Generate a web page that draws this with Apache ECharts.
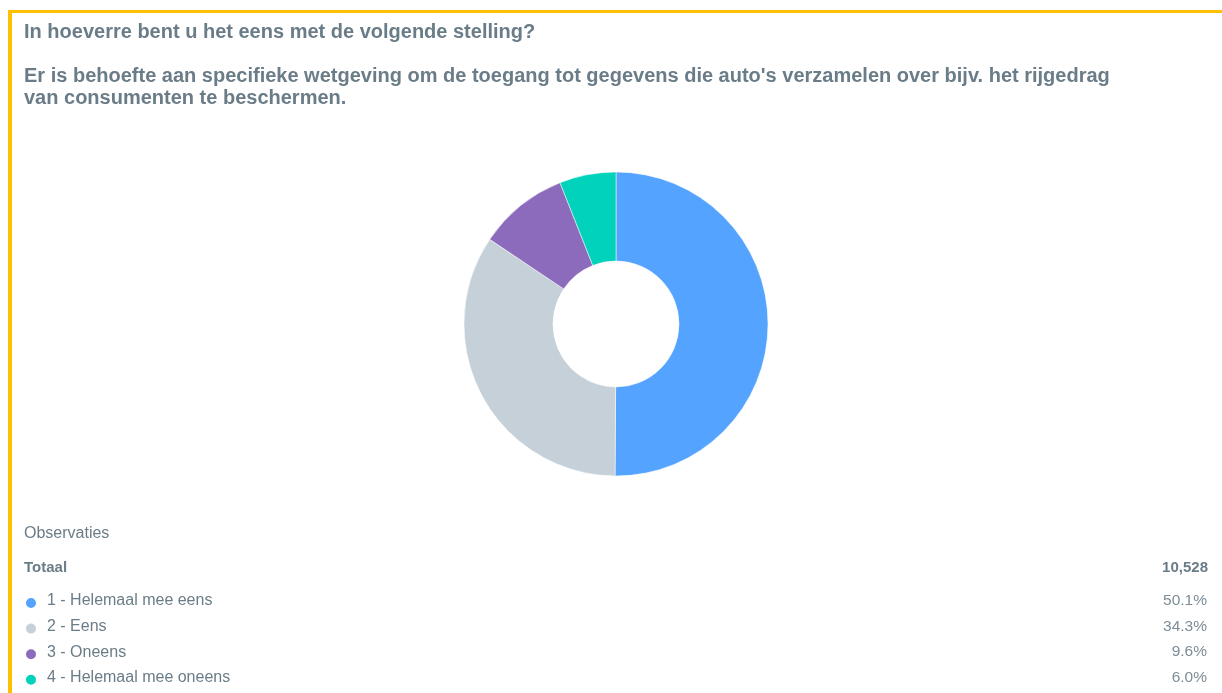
<!DOCTYPE html>
<html><head><meta charset="utf-8">
<script src="https://cdn.jsdelivr.net/npm/echarts@6/dist/echarts.min.js"></script>
<style>html,body{margin:0;padding:0;background:#fff}#c{width:1222px;height:693px}</style>
</head><body><div id="c"></div>
<script>
const titleLines = ["In hoeverre bent u het eens met de volgende stelling?", "", "Er is behoefte aan specifieke wetgeving om de toegang tot gegevens die auto's verzamelen over bijv. het rijgedrag", "van consumenten te beschermen."];
const categories = ["1 - Helemaal mee eens", "2 - Eens", "3 - Oneens", "4 - Helemaal mee oneens"];
const percentages = [50.1, 34.3, 9.6, 6.0];
const totalLabel = "Totaal";
const totalValue = "10,528";
const observationsLabel = "Observaties";
const colors = ["#53a3ff", "#c5d0d9", "#8c6bbd", "#00d2bb"];

const textColor = "#6a7c87";
const font = "Liberation Sans, Arial";
const chart = echarts.init(document.getElementById('c'));
const pctMap = {};
categories.forEach((c, i) => pctMap[c] = percentages[i]);

chart.setOption({
  animation: false,
  color: colors,
  title: {
    text: titleLines.join("\n"),
    left: 24, top: 21, padding: 0,
    textStyle: { fontFamily: font, fontSize: 20, fontWeight: "bold", color: textColor, lineHeight: 22 }
  },
  graphic: [
    { type: 'rect', shape: { x: 8, y: 10, width: 1214, height: 3 }, style: { fill: '#ffc000' } },
    { type: 'rect', shape: { x: 8, y: 10, width: 4, height: 683 }, style: { fill: '#ffc000' } },
    { type: 'text', left: 24, top: 526, style: { text: observationsLabel, font: '16px "Liberation Sans", Arial', fill: textColor } },
    { type: 'text', left: 24, top: 560, style: { text: totalLabel, font: 'bold 15px "Liberation Sans", Arial', fill: textColor } },
    { type: 'text', right: 14, top: 560, style: { text: totalValue, font: 'bold 15px "Liberation Sans", Arial', fill: textColor, align: 'right' } }
  ],
  legend: {
    orient: 'vertical',
    left: 24, top: 593, padding: 0,
    icon: 'circle',
    itemWidth: 12, itemHeight: 12,
    itemGap: 5.6,
    selectedMode: false,
    data: categories,
    formatter: name => '{n|' + name + '}{p|' + pctMap[name].toFixed(1) + '%}',
    textStyle: {
      fontFamily: font, fontSize: 16, color: textColor,
      rich: {
        n: { width: 1100, padding: [0, 0, 4, 5], fontSize: 16, lineHeight: 16, color: textColor, fontFamily: font },
        p: { width: 60, align: 'right', padding: [0, 0, 4, 0], fontSize: 15.5, lineHeight: 16, color: "#7d8d97", fontFamily: font }
      }
    }
  },
  series: [{
    type: 'pie',
    center: [616, 324],
    radius: [63, 152],
    startAngle: 90,
    clockwise: true,
    label: { show: false },
    labelLine: { show: false },
    itemStyle: { borderColor: '#fff', borderWidth: 0.5 },
    emphasis: { disabled: true },
    data: categories.map((c, i) => ({ name: c, value: percentages[i] }))
  }]
});
</script></body></html>
